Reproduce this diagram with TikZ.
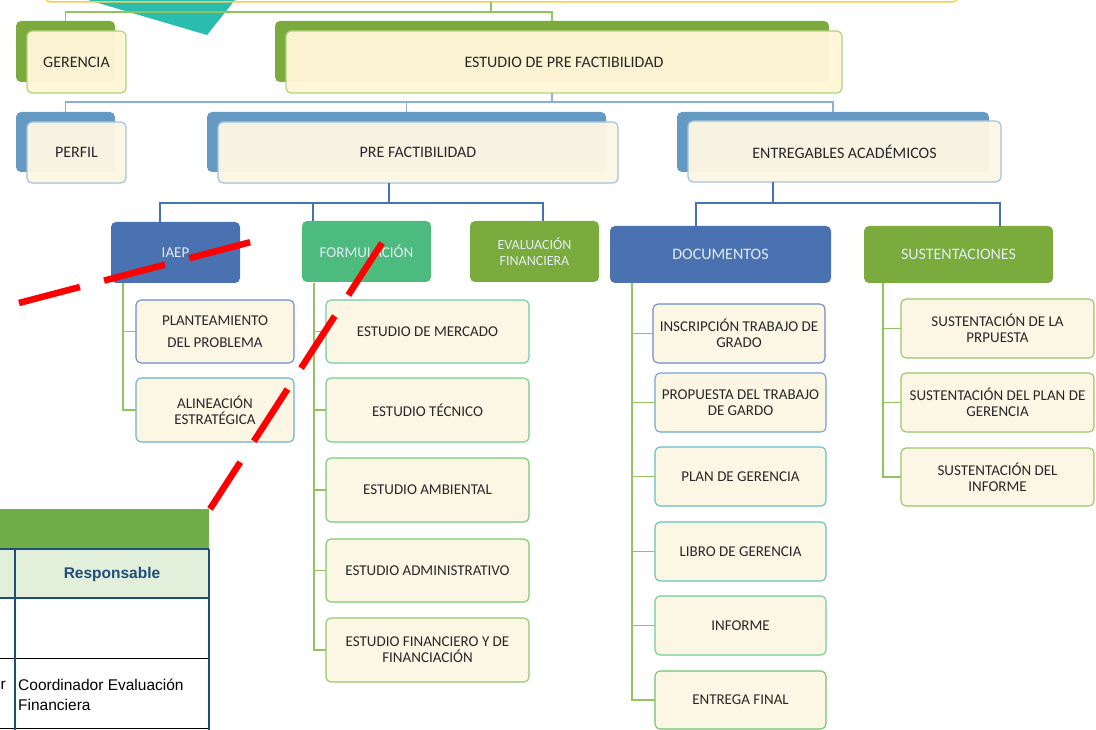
\documentclass[tikz,border=0pt]{standalone}
\usepackage{fontspec}
\setmainfont{Carlito}
\newfontfamily\arialf{Liberation Sans}
\definecolor{cOlive}{RGB}{122,171,60}
\definecolor{cBack}{RGB}{100,153,194}
\definecolor{cCream}{RGB}{255,245,214}
\definecolor{cCreamC}{RGB}{252,246,228}
\definecolor{cGB}{RGB}{175,210,130}
\definecolor{cBB}{RGB}{160,195,225}
\definecolor{cDBlue}{RGB}{74,113,176}
\definecolor{cMGreen}{RGB}{76,187,125}
\definecolor{cGl}{RGB}{145,196,95}
\definecolor{cBl}{RGB}{140,175,215}
\definecolor{cBl2}{RGB}{72,112,180}
\definecolor{cTeal}{RGB}{42,188,172}
\definecolor{cGold}{RGB}{255,204,70}
\definecolor{cTxt}{RGB}{40,40,40}
\definecolor{cWTxt}{RGB}{228,236,246}
\definecolor{cHead}{RGB}{112,173,71}
\definecolor{cLight}{RGB}{226,239,218}
\definecolor{cTab}{RGB}{31,78,121}
\tikzset{
  box/.style={rounded corners=5pt, inner sep=0pt, outer sep=0pt, align=center,
    font=\fontsize{16}{18}\selectfont, text=cTxt},
  backG/.style={box, fill=cOlive},
  backB/.style={box, fill=cBack},
  frontG/.style={box, fill=cCream, fill opacity=0.97, text opacity=1, draw=cGB, line width=1.2pt},
  frontB/.style={box, fill=cCreamC, fill opacity=0.97, text opacity=1, draw=cBB, line width=1.2pt},
  head/.style={box, text=cWTxt, font=\fontsize{15}{16}\selectfont},
  chl/.style={box, fill=cCreamC, line width=1.1pt, font=\fontsize{15}{16}\selectfont},
  gcon/.style={cGl, line width=1.2pt},
  bcon/.style={cBl, line width=1.2pt},
  b2con/.style={cBl2, line width=1.2pt},
  reddash/.style={red, line width=6.5pt},
}
\begin{document}
\begin{tikzpicture}[x=1pt,y=-1pt]
\useasboundingbox (0,0) rectangle (1096,730);
\fill[white] (0,0) rectangle (1096,730);
% teal shape and top box
\fill[cTeal] (71,-5) -- (239,-5) -- (207,35) -- cycle;
\draw[cGold, line width=1.5pt, rounded corners=6pt] (45,-30) rectangle (958,2);

% level 1
\node[backG, minimum width=99, minimum height=61] (gerB) at (65.5,51.5) {};
\node[frontG, minimum width=99, minimum height=62] (ger) at (76.5,62) {GERENCIA};
\node[backG, minimum width=554, minimum height=61] (estB) at (552,51.5) {};
\node[frontG, minimum width=556, minimum height=62] (est) at (564,62) {ESTUDIO DE PRE FACTIBILIDAD};

% level 2
\node[backB, minimum width=99, minimum height=60] (perB) at (65.5,142) {};
\node[frontB, minimum width=99, minimum height=61] (per) at (76.5,152.5) {PERFIL};
\node[backB, minimum width=399, minimum height=60] (preB) at (406.5,142) {};
\node[frontB, minimum width=400, minimum height=61] (pre) at (418,152.5) {PRE FACTIBILIDAD};
\node[backB, minimum width=312, minimum height=60] (entB) at (833,142) {};
\node[frontB, minimum width=313, minimum height=61] (ent) at (844.5,151.5) {ENTREGABLES ACADÉMICOS};

% level 3
\node[head, fill=cDBlue, minimum width=129, minimum height=61] (iaep) at (175.5,252.5) {IAEP};
\node[head, fill=cMGreen, minimum width=129, minimum height=61] (form) at (366.5,251.5) {FORMULACIÓN};
\node[head, fill=cOlive, minimum width=129, minimum height=61, font=\fontsize{14}{16}\selectfont] (eval) at (534.5,251.5) {EVALUACIÓN\\FINANCIERA};
\node[head, fill=cDBlue, minimum width=221, minimum height=57, font=\fontsize{16}{18}\selectfont] (doc) at (720.5,254.5) {DOCUMENTOS};
\node[head, fill=cOlive, minimum width=189, minimum height=57, font=\fontsize{16}{18}\selectfont] (sus) at (958.5,254.5) {SUSTENTACIONES};

% IAEP children
\node[chl, draw={rgb,255:red,110;green,140;blue,200}, minimum width=158, minimum height=63, font=\fontsize{15}{22}\selectfont] (plan) at (215,331.5) {PLANTEAMIENTO\\DEL PROBLEMA};
\node[chl, draw={rgb,255:red,110;green,175;blue,210}, minimum width=158, minimum height=64] (alin) at (215,410) {ALINEACIÓN\\ESTRATÉGICA};

% FORMULACION children
\node[chl, draw={rgb,255:red,110;green,205;blue,170}, minimum width=203, minimum height=63] (merc) at (427.5,331.5) {ESTUDIO DE MERCADO};
\node[chl, draw={rgb,255:red,115;green,205;blue,140}, minimum width=203, minimum height=64] (tec) at (427.5,410) {ESTUDIO TÉCNICO};
\node[chl, draw={rgb,255:red,120;green,200;blue,120}, minimum width=203, minimum height=64] (amb) at (427.5,490) {ESTUDIO AMBIENTAL};
\node[chl, draw={rgb,255:red,128;green,200;blue,110}, minimum width=203, minimum height=63] (adm) at (427.5,570.5) {ESTUDIO ADMINISTRATIVO};
\node[chl, draw={rgb,255:red,148;green,200;blue,110}, minimum width=203, minimum height=64] (fin) at (427.5,650) {ESTUDIO FINANCIERO Y DE\\FINANCIACIÓN};

% DOCUMENTOS children
\node[chl, draw={rgb,255:red,110;green,140;blue,200}, minimum width=172, minimum height=59] (insc) at (739,333.5) {INSCRIPCIÓN TRABAJO DE\\GRADO};
\node[chl, draw={rgb,255:red,110;green,165;blue,210}, minimum width=171, minimum height=59] (prop) at (740.5,402.5) {PROPUESTA DEL TRABAJO\\DE GARDO};
\node[chl, draw={rgb,255:red,100;green,190;blue,200}, minimum width=171, minimum height=59] (plang) at (740.5,476.5) {PLAN DE GERENCIA};
\node[chl, draw={rgb,255:red,100;green,195;blue,185}, minimum width=171, minimum height=59] (libro) at (740.5,551.5) {LIBRO DE GERENCIA};
\node[chl, draw={rgb,255:red,115;green,205;blue,150}, minimum width=171, minimum height=59] (inf) at (740.5,625.5) {INFORME};
\node[chl, draw={rgb,255:red,115;green,195;blue,110}, minimum width=171, minimum height=58] (entf) at (740.5,700) {ENTREGA FINAL};

% SUSTENTACIONES children
\node[chl, draw={rgb,255:red,150;green,200;blue,100}, minimum width=193, minimum height=59] (s1) at (997.5,328.5) {SUSTENTACIÓN DE LA\\PRPUESTA};
\node[chl, draw={rgb,255:red,150;green,200;blue,100}, minimum width=193, minimum height=59] (s2) at (997.5,402.5) {SUSTENTACIÓN DEL PLAN DE\\GERENCIA};
\node[chl, draw={rgb,255:red,150;green,200;blue,100}, minimum width=193, minimum height=58] (s3) at (997.5,477) {SUSTENTACIÓN DEL\\INFORME};

% connectors level 1
\coordinate (t0) at (491,2);
\coordinate (t1) at (491,12);
\draw[gcon] (t0) -- (t1) -| (gerB.north);
\draw[gcon] (t1) -| (estB.north);

% connectors level 2
\coordinate (e1) at (552,102);
\draw[bcon] (estB.north |- est.south) -- (e1);
\draw[bcon] (e1) -| (perB.north);
\draw[bcon] (e1) -| (preB.north);
\draw[bcon] (e1) -| (entB.north);

% connectors level 3
\coordinate (p1) at (389,203);
\draw[b2con] (pre.south -| p1) -- (p1);
\draw[b2con] (p1) -| ([xshift=-15.5pt]iaep.north);
\draw[b2con] (p1) -| ([xshift=-53.5pt]form.north);
\draw[b2con] (p1) -| ([xshift=8.5pt]eval.north);
\coordinate (d1) at (773,203);
\draw[b2con] (ent.south -| d1) -- (d1);
\draw[b2con] (d1) -| ([xshift=-24.5pt]doc.north);
\draw[b2con] (d1) -| ([xshift=41.5pt]sus.north);

% children connectors
\coordinate (ib) at (123,283);
\draw[gcon] (ib) |- (plan.west);
\draw[gcon] (ib) |- (alin.west);
\coordinate (fb) at (314,283);
\foreach \n in {merc,tec,amb,adm,fin} \draw[gcon] (fb) |- (\n.west);
\coordinate (db) at ([xshift=-88.5pt]doc.south);
\foreach \n in {insc,prop,plang,libro,inf,entf} \draw[gcon] (db) |- (\n.west);
\coordinate (sb) at ([xshift=-75.5pt]sus.south);
\foreach \n in {s1,s2,s3} \draw[gcon] (sb) |- (\n.west);

% table
\fill[cHead] (0,509) rectangle (209,549);
\fill[cLight] (0,549) rectangle (209,598);
\draw[cTab, line width=1.2pt] (0,549) -- (209,549);
\draw[cTab, line width=1.2pt] (0,598) -- (209,598);
\draw[black, line width=1pt] (0,658) -- (209,658);
\draw[black, line width=1pt] (0,728) -- (209,728);
\draw[cTab, line width=1.5pt] (15,549) -- (15,730);
\draw[cTab, line width=1.5pt] (209,549) -- (209,730);
\node[font=\arialf\bfseries\fontsize{15.5}{18}\selectfont, text=cTab, inner sep=0pt] (resp) at (112,574) {Responsable};
\node[anchor=west, align=left, inner sep=0pt, font=\arialf\fontsize{15.5}{20}\selectfont] (coord) at (18,695) {Coordinador Evaluación\\Financiera};
\node[anchor=east, inner sep=0pt, font=\arialf\fontsize{15.5}{20}\selectfont] (rr) at (6,685) {r};

% red dashed lines
\draw[reddash, dash pattern=on 63pt off 25pt] (19,303) -- (251,242);
\draw[reddash, dash pattern=on 62pt off 25pt] (382,243) -- (210,509);
\end{tikzpicture}
\end{document}
